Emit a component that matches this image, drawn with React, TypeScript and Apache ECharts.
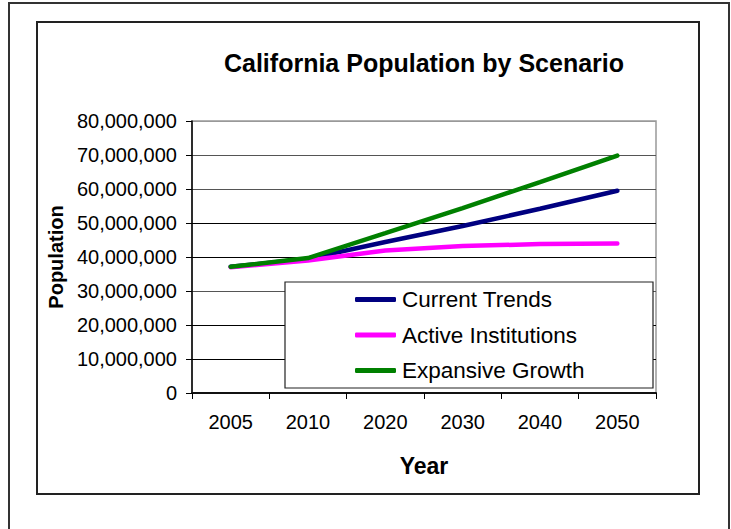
import React, { useEffect, useRef } from "react";
import * as echarts from "echarts";

const years = ["2005", "2010", "2020", "2030", "2040", "2050"];
const currentTrends = [37100000, 39500000, 44400000, 49100000, 54200000, 59500000];
const activeInstitutions = [37000000, 39000000, 41900000, 43200000, 43800000, 44000000];
const expansiveGrowth = [37100000, 39700000, 47000000, 54400000, 62000000, 69800000];
const seriesNames = ["Current Trends", "Active Institutions", "Expansive Growth"];
const yMin = 0;
const yMax = 80000000;
const yInterval = 10000000;

const FONT = "'Liberation Sans', Arial, sans-serif";

export default function App() {
  const ref = useRef<HTMLDivElement>(null);
  useEffect(() => {
    if (!ref.current) return;
    const chart = echarts.init(ref.current, undefined, { renderer: "svg" });
    const gridColors = ["#000", "#000", "#000", "#555", "#000", "#000", "#555", "#555", "#999"];
    chart.setOption({
      animation: false,
      backgroundColor: "#fff",
      textStyle: { fontFamily: FONT },
      grid: {
        left: 192,
        top: 121,
        width: 464,
        height: 272,
        show: true,
        borderColor: "#999",
        borderWidth: 1.5,
        backgroundColor: "transparent",
      },
      legend: {
        orient: "vertical",
        left: 355,
        top: 288,
        z: 20,
        itemGap: 12.5,
        itemWidth: 41,
        itemHeight: 5,
        icon: "roundRect",
        padding: 0,
        textStyle: { fontFamily: FONT, fontSize: 22.5, color: "#000", lineHeight: 22, padding: [0, 0, 0, 1] },
        data: seriesNames,
      },
      xAxis: {
        type: "category",
        data: years,
        boundaryGap: true,
        name: "Year",
        nameLocation: "middle",
        nameGap: 61,
        nameTextStyle: { fontFamily: FONT, fontSize: 23, fontWeight: "bold", color: "#000" },
        axisLine: { lineStyle: { color: "#111", width: 2 } },
        axisTick: { show: true, length: 6, inside: false, lineStyle: { color: "#000", width: 1 } },
        axisLabel: { margin: 19, fontFamily: FONT, fontSize: 20, color: "#000" },
        splitLine: { show: false },
      },
      yAxis: {
        type: "value",
        min: yMin,
        max: yMax,
        interval: yInterval,
        name: "Population",
        nameLocation: "middle",
        nameGap: 126,
        nameTextStyle: { fontFamily: FONT, fontSize: 20, fontWeight: "bold", color: "#000" },
        axisLine: { show: true, lineStyle: { color: "#000", width: 1.5 } },
        axisTick: { show: true, length: 6, lineStyle: { color: "#000", width: 1 } },
        axisLabel: {
          margin: 15,
          fontFamily: FONT,
          fontSize: 20,
          color: "#000",
          formatter: (v: number) => v.toLocaleString("en-US"),
        },
        splitLine: { show: true, lineStyle: { color: gridColors, width: 1.2 } },
      },
      graphic: [
        {
          type: "rect",
          z: 0,
          silent: true,
          shape: { x: 9, y: 3, width: 720, height: 600 },
          style: { fill: "none", stroke: "#333", lineWidth: 2 },
        },
        {
          type: "rect",
          z: 0,
          silent: true,
          shape: { x: 37, y: 22, width: 662, height: 472 },
          style: { fill: "none", stroke: "#222", lineWidth: 2 },
        },
        {
          type: "rect",
          z: 10,
          silent: true,
          shape: { x: 285, y: 282, width: 368, height: 106 },
          style: { fill: "#fff", stroke: "#222", lineWidth: 1.2 },
        },
        {
          type: "text",
          z: 10,
          x: 424,
          y: 63,
          style: {
            text: "California Population by Scenario",
            fontFamily: FONT,
            fontSize: 25,
            fontWeight: "bold",
            fill: "#000",
            align: "center",
            verticalAlign: "middle",
          },
        },
      ],
      series: [
        {
          name: seriesNames[0],
          type: "line",
          data: currentTrends,
          symbol: "none",
          color: "#000080",
          lineStyle: { color: "#000080", width: 4.5, cap: "round" },
        },
        {
          name: seriesNames[1],
          type: "line",
          data: activeInstitutions,
          symbol: "none",
          color: "#ff00ff",
          lineStyle: { color: "#ff00ff", width: 4.5, cap: "round" },
        },
        {
          name: seriesNames[2],
          type: "line",
          data: expansiveGrowth,
          symbol: "none",
          color: "#008000",
          lineStyle: { color: "#008000", width: 4.5, cap: "round" },
        },
      ],
    });
    return () => chart.dispose();
  }, []);
  return (
    <div
      ref={ref}
      style={{ position: "fixed", left: 0, top: 0, width: 731, height: 529, background: "#fff" }}
    />
  );
}
